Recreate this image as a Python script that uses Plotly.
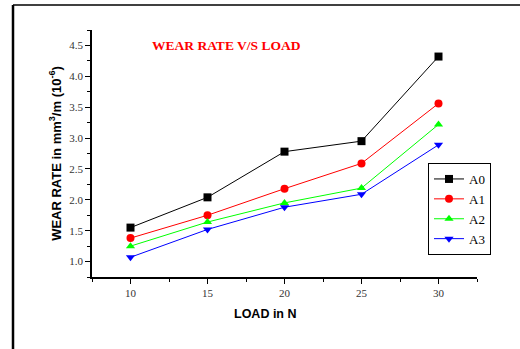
import plotly.graph_objects as go

loads = [10, 15, 20, 25, 30]
a0 = [1.55, 2.04, 2.78, 2.95, 4.32]
a1 = [1.38, 1.75, 2.18, 2.59, 3.56]
a2 = [1.25, 1.64, 1.95, 2.19, 3.22]
a3 = [1.07, 1.52, 1.88, 2.09, 2.89]
names = ["A0", "A1", "A2", "A3"]
colors = ["#000000", "#ff0000", "#00ff00", "#0000ff"]
symbols = ["square", "circle", "triangle-up", "triangle-down"]
series = [a0, a1, a2, a3]

fig = go.Figure()
for nm, ys, c, s in zip(names, series, colors, symbols):
    fig.add_trace(go.Scatter(
        x=loads, y=ys, name=nm, mode="lines+markers",
        line=dict(color=c, width=1),
        marker=dict(symbol=s, color=c, size=8),
    ))

tickfont = dict(family="Liberation Serif, Times New Roman, serif", size=11, color="#333333")
fig.update_layout(
    width=520, height=349,
    margin=dict(l=92, r=43, t=30, b=72),
    paper_bgcolor="white", plot_bgcolor="white",
    showlegend=True,
    legend=dict(
        x=(428 - 92) / 385, y=(277 - 163) / 247, xanchor="left", yanchor="top",
        bordercolor="black", borderwidth=1, bgcolor="white",
        font=dict(family="Liberation Serif, Times New Roman, serif", size=13, color="black"),
        itemwidth=30, tracegroupgap=0,
    ),
    xaxis=dict(
        range=[7.5, 32.5], tickvals=[10, 15, 20, 25, 30], automargin=False,
        showgrid=False, zeroline=False, showline=True, linecolor="black", linewidth=1.5,
        ticks="outside", ticklen=5, tickcolor="black", tickwidth=1,
        tickfont=tickfont,
        minor=dict(tickvals=[7.5, 12.5, 17.5, 22.5, 27.5, 32.5], ticks="outside", ticklen=3, tickcolor="black"),
    ),
    yaxis=dict(
        range=[0.75, 4.75], tickvals=[1.0, 1.5, 2.0, 2.5, 3.0, 3.5, 4.0, 4.5], automargin=False,
        ticktext=["1.0", "1.5", "2.0", "2.5", "3.0", "3.5", "4.0", "4.5"],
        showgrid=False, zeroline=False, showline=True, linecolor="black", linewidth=1.5,
        ticks="outside", ticklen=5, tickcolor="black", tickwidth=1,
        tickfont=tickfont,
        minor=dict(tickvals=[0.75, 1.25, 1.75, 2.25, 2.75, 3.25, 3.75, 4.25, 4.75], ticks="outside", ticklen=3, tickcolor="black"),
        title=dict(text="<b>WEAR RATE in mm<sup>3</sup>/m (10<sup>-6</sup>)</b>",
                   font=dict(family="Liberation Sans, Arial, sans-serif", size=13, color="black"),
                   standoff=5),
    ),
    annotations=[
        dict(text="<b>WEAR RATE V/S LOAD</b>", xref="paper", yref="paper",
             x=(226 - 92) / 385, y=(277 - 45) / 247, xanchor="center", yanchor="middle", showarrow=False,
             font=dict(family="Liberation Serif, Times New Roman, serif", size=13.5, color="#ff0000")),
        dict(text="<b>LOAD in N</b>", xref="paper", yref="paper",
             x=(265 - 92) / 385, y=(277 - 314) / 247, xanchor="center", yanchor="middle", showarrow=False,
             font=dict(family="Liberation Sans, Arial, sans-serif", size=12.5, color="black")),
    ],
    shapes=[
        dict(type="line", xref="paper", yref="paper",
             x0=(13 - 92) / 385, x1=(521 - 92) / 385, y0=(277 - 5) / 247, y1=(277 - 5) / 247,
             line=dict(color="black", width=1.5)),
        dict(type="line", xref="paper", yref="paper",
             x0=(13 - 92) / 385, x1=(13 - 92) / 385, y0=(277 - 5) / 247, y1=(277 - 352) / 247,
             line=dict(color="black", width=2.5)),
    ],
)

fig.write_html("out.html", config={"displayModeBar": False},
               post_script="document.body.style.margin='0';document.body.style.overflow='hidden';")
